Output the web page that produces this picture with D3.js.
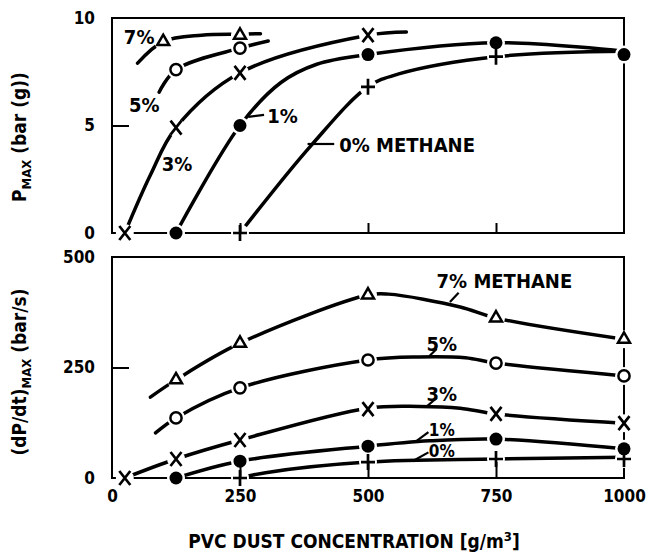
<!DOCTYPE html>
<html>
<head>
<meta charset="utf-8">
<script src="https://cdn.jsdelivr.net/npm/d3@7"></script>
<style>
  html, body { margin: 0; padding: 0; background: #fff; }
  svg { display: block; }
  text { font-family: "DejaVu Sans Condensed", "DejaVu Sans", sans-serif; font-weight: bold; font-stretch: condensed; fill: #000; }
</style>
</head>
<body>
<svg id="chart" width="649" height="560"></svg>
<script>
// ---- Data -------------------------------------------------------------
// PVC dust concentration axis (g/m3)
const xTickValues = [0, 250, 500, 750, 1000];
const pmaxTickValues = [0, 5, 10];
const rateTickValues = [0, 250, 500];

// Maximum explosion pressure, bar (g): measured points [concentration, value]
const pmax7 = [[100, 8.9], [250, 9.2]];
const pmax5 = [[125, 7.6], [250, 8.6]];
const pmax3 = [[25, 0], [125, 4.9], [250, 7.45], [500, 9.2]];
const pmax1 = [[125, 0], [250, 5.0], [500, 8.3], [750, 8.85], [1000, 8.3]];
const pmax0 = [[250, 0], [500, 6.8], [750, 8.2]];

// Hand-faired trend lines through the pressure points
const pmax7Fit = [[50, 7.9], [100, 8.9], [175, 9.2], [250, 9.25], [290, 9.27]];
const pmax5Fit = [[92, 6.55], [125, 7.6], [250, 8.6], [305, 8.93]];
const pmax3Fit = [[25, 0], [75, 2.7], [125, 4.9], [250, 7.45], [500, 9.2], [575, 9.35]];
const pmax1Fit = [[125, 0], [250, 5.0], [330, 7.0], [400, 7.85], [500, 8.3], [750, 8.85], [1000, 8.45]];
const pmax0Fit = [[250, 0], [390, 4.1], [500, 6.8], [560, 7.4], [750, 8.2], [1000, 8.45]];

// Maximum rate of pressure rise, bar/s: measured points
const rate7 = [[125, 222], [250, 305], [500, 414], [750, 362], [1000, 314]];
const rate5 = [[125, 136], [250, 204], [500, 267], [750, 260], [1000, 231]];
const rate3 = [[25, 0], [125, 43], [250, 86], [500, 156], [750, 145], [1000, 124]];
const rate1 = [[125, 0], [250, 38], [500, 72], [750, 88], [1000, 66]];
const rate0 = [[250, 0], [500, 36], [750, 43], [1000, 43]];

// Hand-faired trend lines through the rate points
const rate7Fit = [[75, 183], [125, 222], [250, 305], [500, 414], [540, 416], [680, 387], [750, 362], [1000, 314]];
const rate5Fit = [[85, 102], [125, 136], [250, 204], [500, 267], [600, 274], [690, 272], [750, 260], [1000, 231]];
const rate3Fit = [[25, 0], [125, 43], [250, 86], [500, 158], [600, 162], [680, 158], [750, 145], [1000, 124]];
const rate1Fit = [[125, 0], [250, 38], [500, 72], [620, 84], [750, 88], [1000, 66]];
const rate0Fit = [[250, 0], [300, 12], [500, 36], [750, 43], [1000, 47]];

// Curve labels, in data units [concentration, value]
const pmaxNotes = [
  { text: "7%", at: [53, 9.12], anchor: "middle", size: 20 },
  { text: "5%", at: [63, 5.95], anchor: "middle", size: 20 },
  { text: "3%", at: [127, 3.2], anchor: "middle", size: 20 },
  { text: "1%", at: [333, 5.44], anchor: "middle", size: 20 },
  { text: "0% METHANE", at: [444, 4.1], anchor: "start", size: 20 }
];
const pmaxLeaders = [
  [[266, 5.4], [297, 5.49]],
  [[382, 4.14], [434, 4.14]]
];
const rateNotes = [
  { text: "7% METHANE", at: [634, 446], anchor: "start", size: 20 },
  { text: "5%", at: [644, 303], anchor: "middle", size: 20 },
  { text: "3%", at: [644, 191], anchor: "middle", size: 20 },
  { text: "1%", at: [644, 108], anchor: "middle", size: 17 },
  { text: "0%", at: [644, 61], anchor: "middle", size: 17 }
];
const rateLeaders = [
  [[660, 398], [677, 419]],
  [[620, 276], [634, 292]],
  [[616, 163], [634, 181]],
  [[595, 84], [618, 104]],
  [[587, 38], [618, 58]]
];

// ---- Scales -----------------------------------------------------------
const svg = d3.select("#chart");
const x = d3.scaleLinear().domain([0, 1000]).range([112, 624]);
const yP = d3.scaleLinear().domain([0, 10]).range([233, 18]);
const yR = d3.scaleLinear().domain([0, 500]).range([478, 257]);

const pmaxSeries = [
  { marker: "triangle", points: pmax7, fit: pmax7Fit },
  { marker: "circle", points: pmax5, fit: pmax5Fit },
  { marker: "cross", points: pmax3, fit: pmax3Fit },
  { marker: "dot", points: pmax1, fit: pmax1Fit },
  { marker: "plus", points: pmax0, fit: pmax0Fit }
];
const rateSeries = [
  { marker: "triangle", points: rate7, fit: rate7Fit },
  { marker: "circle", points: rate5, fit: rate5Fit },
  { marker: "cross", points: rate3, fit: rate3Fit },
  { marker: "dot", points: rate1, fit: rate1Fit },
  { marker: "plus", points: rate0, fit: rate0Fit }
];

function drawMarker(g, type, px, py) {
  const m = g.append("g").attr("transform", `translate(${px},${py})`);
  if (type === "triangle") {
    m.append("path").attr("d", d3.symbol(d3.symbolTriangle, 62)())
      .attr("fill", "#fff").attr("stroke", "#000").attr("stroke-width", 2.5);
  } else if (type === "circle") {
    m.append("circle").attr("r", 5.6)
      .attr("fill", "#fff").attr("stroke", "#000").attr("stroke-width", 2.5);
  } else if (type === "dot") {
    m.append("circle").attr("r", 6.5).attr("fill", "#000");
  } else if (type === "cross") {
    m.append("path").attr("d", "M-5.5,-7L5.5,7M5.5,-7L-5.5,7")
      .attr("stroke", "#000").attr("stroke-width", 2.7).attr("fill", "none");
  } else if (type === "plus") {
    m.append("path").attr("d", "M-7,0L7,0M0,-8L0,8")
      .attr("stroke", "#000").attr("stroke-width", 2.7).attr("fill", "none");
  }
}

function drawPanel(cfg) {
  const { y, series, notes, leaders, yTicks, innerYTicks, innerXTicks, xLabels } = cfg;
  const g = svg.append("g");
  const [y0, y1] = y.range();

  // frame
  g.append("rect")
    .attr("x", x(0)).attr("y", y1)
    .attr("width", x(1000) - x(0)).attr("height", y0 - y1)
    .attr("fill", "none").attr("stroke", "#000").attr("stroke-width", 2);

  // faired curves
  const line = d3.line()
    .x(d => x(d[0])).y(d => y(d[1]))
    .curve(d3.curveCatmullRom.alpha(0.5));
  g.append("g").selectAll("path").data(series).join("path")
    .attr("d", s => line(s.fit))
    .attr("fill", "none").attr("stroke", "#000")
    .attr("stroke-width", 3.5).attr("stroke-linecap", "round");

  // label leaders
  g.append("g").selectAll("line").data(leaders).join("line")
    .attr("x1", d => x(d[0][0])).attr("y1", d => y(d[0][1]))
    .attr("x2", d => x(d[1][0])).attr("y2", d => y(d[1][1]))
    .attr("stroke", "#000").attr("stroke-width", 2.2);

  // white gaps around each plotted point
  const allPts = series.flatMap(s => s.points.map(p => ({ p, type: s.marker })));
  g.append("g").selectAll("circle").data(allPts).join("circle")
    .attr("cx", d => x(d.p[0])).attr("cy", d => y(d.p[1]))
    .attr("r", 9).attr("fill", "#fff");

  // inward tick marks
  g.append("g").call(d3.axisLeft(y).tickValues(innerYTicks).tickSize(-17).tickFormat(""))
    .attr("transform", `translate(${x(0)},0)`)
    .call(a => a.select(".domain").remove())
    .call(a => a.selectAll("line").attr("stroke-width", 2));
  g.append("g").call(d3.axisBottom(x).tickValues(innerXTicks).tickSize(-cfg.xTickLen).tickFormat(""))
    .attr("transform", `translate(0,${y0})`)
    .call(a => a.select(".domain").remove())
    .call(a => a.selectAll("line").attr("stroke-width", 2));

  // markers
  const mk = g.append("g");
  allPts.forEach(d => drawMarker(mk, d.type, x(d.p[0]), y(d.p[1])));

  // y tick labels
  const ya = g.append("g").attr("transform", `translate(${x(0)},0)`)
    .call(d3.axisLeft(y).tickValues(yTicks).tickSize(0).tickPadding(17).tickFormat(d3.format("d")));
  ya.select(".domain").remove();
  ya.selectAll("text").attr("font-size", 17).attr("font-family", null);

  // x tick labels
  if (xLabels) {
    const xa = g.append("g").attr("transform", `translate(0,${y0})`)
      .call(d3.axisBottom(x).tickValues(xTickValues).tickSize(0).tickPadding(12).tickFormat(d3.format("d")));
    xa.select(".domain").remove();
    xa.selectAll("text").attr("font-size", 17).attr("font-family", null);
  }

  // curve labels
  g.append("g").selectAll("text").data(notes).join("text")
    .attr("x", d => x(d.at[0])).attr("y", d => y(d.at[1]))
    .attr("dy", "0.36em")
    .attr("text-anchor", d => d.anchor)
    .attr("font-size", d => d.size)
    .text(d => d.text);
}

drawPanel({
  y: yP, series: pmaxSeries, notes: pmaxNotes, leaders: pmaxLeaders,
  yTicks: pmaxTickValues, innerYTicks: [5], innerXTicks: [250, 500, 750],
  xTickLen: 10, xLabels: false
});
drawPanel({
  y: yR, series: rateSeries, notes: rateNotes, leaders: rateLeaders,
  yTicks: rateTickValues, innerYTicks: [250], innerXTicks: [250, 500, 750],
  xTickLen: 16, xLabels: true
});

// ---- Axis titles ------------------------------------------------------
function yTitle(cy, main, rest) {
  const t = svg.append("text")
    .attr("transform", `translate(26,${cy}) rotate(-90)`)
    .attr("text-anchor", "middle").attr("font-size", 19);
  t.append("tspan").text(main);
  t.append("tspan").attr("font-size", 13).attr("dy", 5).text("MAX");
  t.append("tspan").attr("dy", -5).text(rest);
}
yTitle(137, "P", " (bar (g))");
yTitle(372, "(dP/dt)", " (bar/s)");

const xt = svg.append("text")
  .attr("x", 354).attr("y", 548)
  .attr("text-anchor", "middle").attr("font-size", 19);
xt.append("tspan").text("PVC DUST CONCENTRATION [g/m");
xt.append("tspan").attr("font-size", 13).attr("dy", -7).text("3");
xt.append("tspan").attr("dy", 7).text("]");
</script>
</body>
</html>
